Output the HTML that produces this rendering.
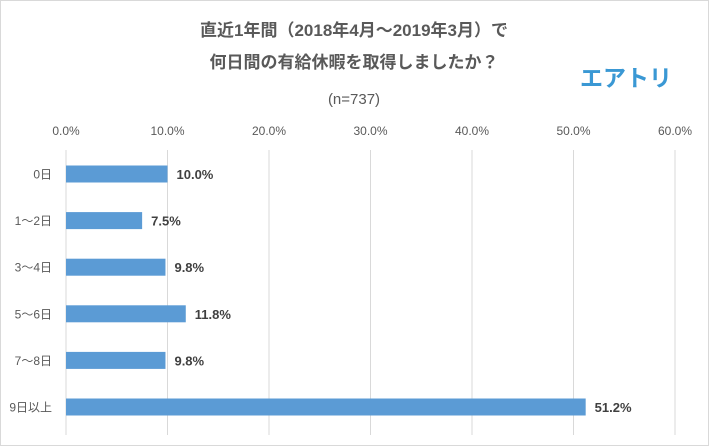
<!DOCTYPE html>
<html><head><meta charset="utf-8"><style>
body{margin:0;background:#fff}
svg{display:block;font-family:"Liberation Sans","Noto Sans CJK JP",sans-serif}
</style></head><body>
<svg id="c" width="709" height="446" viewBox="0 0 709 446">
<rect x="0.5" y="0.5" width="708" height="445" fill="#fff" stroke="#d9d9d9"/>
<text x="354" y="36" text-anchor="middle" font-size="17" font-weight="bold" fill="#595959">直近1年間（2018年4月～2019年3月）で</text>
<text x="354" y="68" text-anchor="middle" font-size="17" font-weight="bold" fill="#595959">何日間の有給休暇を取得しましたか？</text>
<text x="354" y="104" text-anchor="middle" font-size="15" fill="#595959">(n=737)</text>
<text x="626" y="86" text-anchor="middle" font-size="23" font-weight="bold" fill="#3a98d4">エアトリ</text>
<g id="grid"></g><g id="bars"></g>
</svg>
<script>
const categories=["0日","1～2日","3～4日","5～6日","7～8日","9日以上"];
const values=[10.0,7.5,9.8,11.8,9.8,51.2];
const ticks=[0,10,20,30,40,50,60];
const ns="http://www.w3.org/2000/svg";
const x0=66,x1=675,xMax=60,yTop=150,yBottom=435;
const xs=v=>x0+(x1-x0)*v/xMax;
const yc=i=>174+i*46.6;
const grid=document.getElementById('grid'),bars=document.getElementById('bars');
function mk(t,a,p){const e=document.createElementNS(ns,t);for(const k in a)e.setAttribute(k,a[k]);p.appendChild(e);return e;}
ticks.forEach(t=>{
 const l=mk('line',{x1:xs(t),x2:xs(t),y1:yTop,y2:yBottom,stroke:'#d9d9d9'},grid);
 
 
 const tx=mk('text',{x:xs(t),y:135,'text-anchor':'middle','font-size':12,fill:'#595959'},grid);
 tx.textContent=t.toFixed(1)+'%';
 
 
});
categories.forEach((c,i)=>{
 const y=yc(i);
 const lb=mk('text',{x:52,y:y+4.5,'text-anchor':'end','font-size':12,fill:'#595959'},bars);
 lb.textContent=c;
 
 
 const r=mk('rect',{x:xs(0),y:y-8.5,width:xs(values[i])-xs(0),height:17,fill:'#5b9bd5'},bars);
 
 
 const v=mk('text',{x:xs(values[i])+9,y:y+5,'font-size':13,'font-weight':'bold',fill:'#404040'},bars);
 v.textContent=values[i].toFixed(1)+'%';
 
 
});
</script>
</body></html>
